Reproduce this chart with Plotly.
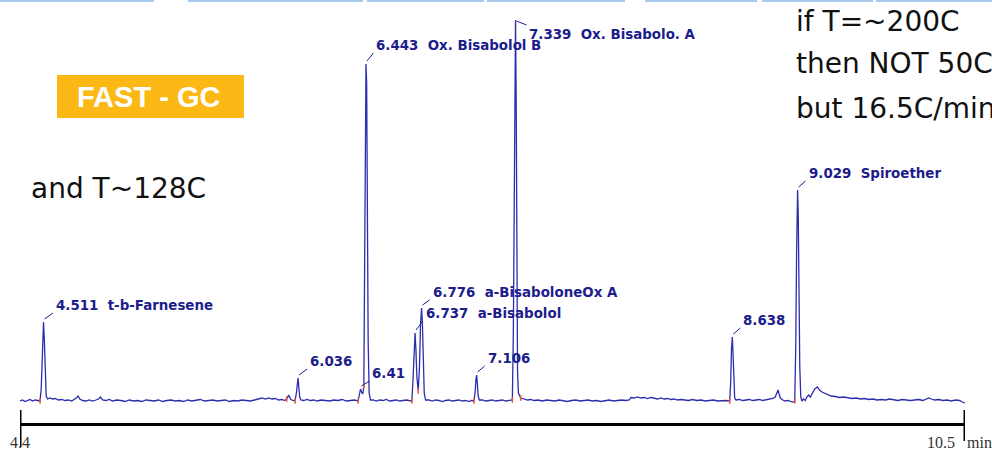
import plotly.graph_objects as go

# ---------------- data ----------------
# (retention time [min], detector signal [arbitrary units above baseline])
baseline_1 = [(4.370, 0), (4.385, 1), (4.400, -0.5), (4.415, 0.5), (4.430, 1.5),
              (4.445, 0), (4.460, 1), (4.475, 0.5)]
peak_4511 = [(4.490, 0), (4.497, 12), (4.504, 50), (4.511, 79), (4.516, 60),
             (4.521, 25), (4.527, 5), (4.535, 2)]
baseline_2 = [(4.550, 3), (4.565, 2), (4.580, 2.5), (4.600, 1), (4.620, 1.5), (4.640, 0.5),
              (4.660, 1), (4.680, 0), (4.695, 1.5), (4.707, 3), (4.718, 5), (4.728, 2),
              (4.745, 0.5), (4.765, 0), (4.785, 1), (4.805, 0), (4.825, 1), (4.840, 2),
              (4.852, 4), (4.865, 1), (4.885, 0.5), (4.905, 1.5), (4.925, 0), (4.950, 1),
              (4.975, 0.5), (5.000, -0.5), (5.025, 1), (5.050, 0), (5.075, 0.5), (5.100, -0.5),
              (5.125, 1), (5.150, 0.5), (5.175, 0), (5.200, 1), (5.225, -0.5), (5.250, 0.5),
              (5.275, 1), (5.300, 0), (5.325, 0.5), (5.350, -0.5), (5.375, 1), (5.400, 0),
              (5.425, 0.5), (5.450, 1.5), (5.475, 0), (5.500, 0.5), (5.525, 1), (5.550, 0),
              (5.575, 0.5), (5.600, 1), (5.625, -0.5), (5.650, 0.5), (5.675, 0), (5.700, 1),
              (5.725, 0.5), (5.750, 0), (5.775, 1), (5.800, 2.5), (5.820, 3), (5.840, 2),
              (5.860, 3), (5.880, 2), (5.900, 2.5), (5.920, 1), (5.940, 1.5), (5.955, 0.5),
              (5.968, 2), (5.980, 6), (5.992, 1.5), (6.005, 0.5)]
peak_6036 = [(6.018, 0), (6.026, 8), (6.031, 19), (6.036, 23), (6.041, 13), (6.046, 4),
             (6.053, 1)]
baseline_3 = [(6.070, 0.5), (6.090, 1.5), (6.110, 0.5), (6.130, 1), (6.150, 0), (6.175, 1),
              (6.200, 0.5), (6.225, 0), (6.250, 1), (6.275, 0.5), (6.300, 1.5), (6.325, 0),
              (6.350, 0.5), (6.375, 1)]
peak_6410_6443 = [(6.396, 0), (6.403, 6), (6.410, 12), (6.416, 9), (6.424, 7), (6.430, 15),
                  (6.435, 120), (6.439, 290), (6.443, 337), (6.447, 318), (6.451, 200),
                  (6.456, 60), (6.462, 8), (6.470, 1)]
baseline_4 = [(6.485, 1), (6.505, 0), (6.525, 1), (6.545, 0.5), (6.565, 1.5), (6.585, 0),
              (6.605, 0.5), (6.625, 1), (6.645, 0), (6.665, 0.5), (6.685, 1), (6.700, 0.5)]
peak_6737_6776 = [(6.718, 0), (6.725, 22), (6.731, 58), (6.737, 68), (6.742, 52), (6.748, 24),
                  (6.756, 10), (6.763, 32), (6.770, 78), (6.776, 93), (6.781, 78), (6.786, 38),
                  (6.792, 8), (6.800, 1)]
baseline_5 = [(6.820, 1), (6.840, 0), (6.860, 1), (6.880, 0.5), (6.900, -0.5), (6.920, 0.5),
              (6.940, 1), (6.960, 0), (6.980, 0.5), (7.000, 1), (7.020, 0), (7.040, 0.5),
              (7.060, -0.5), (7.075, 0.5)]
peak_7106 = [(7.090, 0), (7.097, 9), (7.102, 22), (7.106, 26), (7.110, 18), (7.115, 5),
             (7.122, 1)]
baseline_6 = [(7.140, 1), (7.160, 0), (7.180, 0.5), (7.200, 1), (7.220, 0), (7.240, 0.5),
              (7.260, 1), (7.280, 0), (7.300, 0.5)]
peak_7339 = [(7.320, 1), (7.326, 70), (7.331, 240), (7.335, 370), (7.339, 381), (7.343, 300),
             (7.347, 140), (7.351, 30), (7.356, 8), (7.362, 5), (7.370, 3)]
baseline_7 = [(7.390, 2), (7.410, 1), (7.430, 1.5), (7.450, 0.5), (7.475, 1), (7.500, 0),
              (7.525, 1), (7.550, 0.5), (7.575, 0), (7.600, 1), (7.625, 0.5), (7.650, -0.5),
              (7.675, 0.5), (7.700, 1), (7.725, 0), (7.750, 0.5), (7.775, 1), (7.800, 0),
              (7.825, 0.5), (7.850, -0.5), (7.875, 0.5), (7.900, 1), (7.925, 0), (7.950, 0.5),
              (7.975, 1), (8.000, 0.5), (8.020, 1), (8.030, 3.5), (8.050, 3), (8.070, 4),
              (8.090, 3), (8.110, 3.5), (8.130, 2.5), (8.150, 3.5), (8.170, 3), (8.190, 2),
              (8.210, 3), (8.230, 2), (8.250, 2.5), (8.270, 1.5), (8.290, 2), (8.310, 1),
              (8.330, 1.5), (8.350, 1), (8.375, 0.5), (8.400, 1.5), (8.425, 0.5), (8.450, 1),
              (8.475, 0), (8.500, 0.5), (8.525, 1), (8.550, 0), (8.575, 0.5), (8.600, 0.5)]
peak_8638 = [(8.622, 0), (8.628, 18), (8.633, 52), (8.638, 64), (8.642, 48), (8.646, 20),
             (8.652, 3), (8.660, 1)]
baseline_8 = [(8.680, 1.5), (8.700, 0.5), (8.720, 1), (8.740, 1.5), (8.760, 0.5), (8.780, 1),
              (8.800, 1.5), (8.820, 0.5), (8.840, 1), (8.860, 1.5), (8.880, 2.5), (8.895, 4),
              (8.905, 9), (8.912, 11), (8.918, 7), (8.926, 3), (8.940, 1), (8.955, 0),
              (8.970, 0.5), (8.985, -0.5), (9.000, -1)]
peak_9029 = [(9.012, 0), (9.018, 55), (9.023, 150), (9.029, 211), (9.033, 185), (9.037, 110),
             (9.042, 35), (9.048, 4), (9.055, 0)]
baseline_9 = [(9.065, 2), (9.075, 0.5), (9.085, 4), (9.095, 6), (9.105, 4), (9.118, 8),
              (9.132, 12), (9.148, 14), (9.160, 11), (9.175, 9), (9.190, 8), (9.210, 6),
              (9.230, 5), (9.255, 4.5), (9.280, 3.5), (9.305, 4), (9.330, 3), (9.355, 2.5),
              (9.380, 3), (9.405, 2), (9.430, 2.5), (9.455, 1.5), (9.480, 2), (9.505, 1),
              (9.530, 1.5), (9.555, 1), (9.580, 2), (9.605, 1), (9.630, 0.5), (9.655, 1.5),
              (9.680, 1), (9.705, 0.5), (9.730, 1), (9.755, 1.5), (9.780, 0.5), (9.800, 1.5),
              (9.815, 3), (9.830, 2), (9.850, 1), (9.875, 1.5), (9.900, 0.5), (9.925, 1),
              (9.950, 0), (9.975, 1), (10.000, 0.5), (10.015, -1), (10.032, -2)]

# labelled peaks
peak_rt_text = ["4.511", "6.036", "6.41", "6.443", "6.737", "6.776", "7.106", "7.339", "8.638", "9.029"]
peak_rt = [4.511, 6.036, 6.410, 6.443, 6.737, 6.776, 7.106, 7.339, 8.638, 9.029]
peak_height = [79, 23, 12, 337, 68, 93, 26, 381, 64, 211]
peak_name = ["t-b-Farnesene", "", "", "Ox. Bisabolol B", "a-Bisabolol", "a-BisaboloneOx A",
             "", "Ox. Bisabolo. A", "", "Spiroether"]

# integration (start/end) markers
marker_rt = [4.490, 5.968, 6.018, 6.396, 6.430, 6.718, 6.756, 7.090, 7.320, 7.370, 8.622, 9.012]
marker_sig = [0, 2, 0, 0, 15, 0, 10, 0, 1, 3, 0, 0]

# axis labels
axis_tick_text = ["4.4", "10.5"]
axis_unit = "min"

# ---------------- styles / positions ----------------
W, H = 992, 452
ML, MR, MT, MB = 20, 27, 0, 29
PW, PH = W - ML - MR, H - MT - MB
LINE_BLUE = "#2c2cae"
LABEL_BLUE = "#1c1c8c"

label_dx = [11.5, 11, 11, 9.5, 10, 10, 10, 12, 10, 10]
label_dy = [17, 17, 16, 19, 20, 16, 17, -14, 17, 17]


def px(x, y):
    """image pixel -> paper coordinates"""
    return (x - ML) / PW, (H - MB - y) / PH


segments = [baseline_1, peak_4511, baseline_2, peak_6036, baseline_3, peak_6410_6443,
            baseline_4, peak_6737_6776, baseline_5, peak_7106, baseline_6, peak_7339,
            baseline_7, peak_8638, baseline_8, peak_9029, baseline_9]
rt = [p[0] for s in segments for p in s]
sig = [p[1] for s in segments for p in s]

fig = go.Figure()
fig.add_trace(go.Scatter(x=rt, y=sig, mode="lines",
                         line=dict(color=LINE_BLUE, width=1.3), hoverinfo="skip"))
fig.add_trace(go.Scatter(x=marker_rt, y=marker_sig, mode="markers",
                         marker=dict(symbol="line-ns-open", size=4,
                                     line=dict(color="#e03030", width=1.5)),
                         hoverinfo="skip"))

shapes = []
annotations = []

# peak labels + leader lines
for t, h, txt, name, dx, dy in zip(peak_rt, peak_height, peak_rt_text, peak_name,
                                   label_dx, label_dy):
    label = txt + ("\u00a0\u00a0" + name if name else "")
    annotations.append(dict(x=t, y=h, xref="x", yref="y", text=label, showarrow=False,
                            xanchor="left", yanchor="middle", xshift=dx - 1, yshift=dy,
                            font=dict(family="DejaVu Sans", size=13.4, color=LABEL_BLUE,
                                      weight="bold")))
    if dy > 0:
        x0, y0, x1, y1 = 1, 3, dx - 2, dy - 8
    else:
        x0, y0, x1, y1 = 1, -1, dx - 1, -5
    shapes.append(dict(type="line", xref="x", yref="y", xsizemode="pixel", ysizemode="pixel",
                       xanchor=t, yanchor=h, x0=x0, y0=y0, x1=x1, y1=y1,
                       line=dict(color=LABEL_BLUE, width=1)))

# axis end ticks and labels
x_start, x_end = rt[0], rt[-1]
for xv, lo in ((x_start, -24), (x_end, -18)):
    shapes.append(dict(type="line", xref="x", yref="paper", ysizemode="pixel", yanchor=0,
                       x0=xv, x1=xv, y0=lo, y1=13, line=dict(color="black", width=3)))
serif = dict(family="Liberation Serif", size=16, color="#333333")
annotations.append(dict(x=x_start, y=0, xref="x", yref="paper", text=axis_tick_text[0],
                        showarrow=False, xanchor="center", yanchor="middle", yshift=-19,
                        font=serif))
annotations.append(dict(x=x_end, y=0, xref="x", yref="paper", text=axis_tick_text[1],
                        showarrow=False, xanchor="right", yanchor="middle", yshift=-19,
                        xshift=-8, font=serif))
annotations.append(dict(x=x_end, y=0, xref="x", yref="paper", text=axis_unit,
                        showarrow=False, xanchor="left", yanchor="middle", yshift=-19,
                        xshift=0, font=serif))

# light-blue strips at the very top of the slide
for a, b in [(0, 154), (188, 363), (367, 484), (487, 625), (645, 757), (762, 873), (876, 992)]:
    xa, ya = px(a, 0)
    xb, yb = px(b, 2)
    shapes.append(dict(type="rect", xref="paper", yref="paper", x0=xa, x1=xb, y0=yb, y1=ya,
                       fillcolor="#a9c9ef", line=dict(width=0), layer="above"))

# FAST - GC box
bx0, by0 = px(57, 118)
bx1, by1 = px(244, 75)
shapes.append(dict(type="rect", xref="paper", yref="paper", x0=bx0, x1=bx1, y0=by0, y1=by1,
                   fillcolor="#fcb814", line=dict(width=0)))
tx, ty = px(148, 97)
annotations.append(dict(x=tx, y=ty, xref="paper", yref="paper", text="FAST - GC",
                        showarrow=False, xanchor="center", yanchor="middle",
                        font=dict(family="Liberation Sans", size=29, color="white",
                                  weight="bold")))

# free texts
big = dict(family="DejaVu Sans", size=28, color="#111111")
for txt, x, y in [("and T~128C", 29, 188), ("if T=~200C", 794, 22),
                  ("then NOT 50C", 794, 63), ("but 16.5C/min", 794, 108)]:
    ax_, ay_ = px(x, y)
    annotations.append(dict(x=ax_, y=ay_, xref="paper", yref="paper", text=txt,
                            showarrow=False, xanchor="left", yanchor="middle", font=big))

fig.update_layout(
    width=W, height=H,
    margin=dict(l=ML, r=MR, t=MT, b=MB),
    paper_bgcolor="white", plot_bgcolor="white",
    showlegend=False,
    shapes=shapes, annotations=annotations,
    xaxis=dict(range=[x_start, x_end], showgrid=False, zeroline=False, showline=True,
               linecolor="black", linewidth=3, ticks="", showticklabels=False),
    yaxis=dict(range=[-22, 401], visible=False),
)

fig.write_html("out.html",
               config={"displayModeBar": False},
               post_script="document.body.style.margin='0';"
                           "document.body.style.overflow='hidden';")
